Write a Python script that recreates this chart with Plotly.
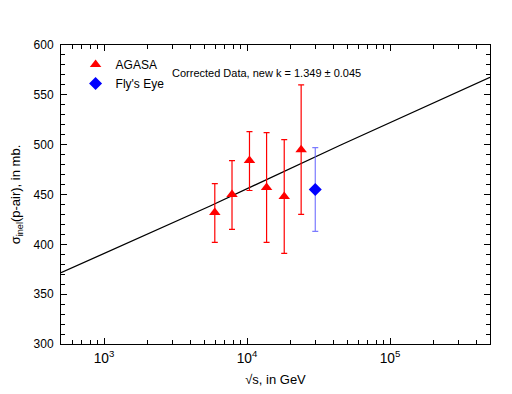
import plotly.graph_objects as go

# AGASA points (sqrt(s) in GeV, sigma in mb)
agasa_x = [5950, 7850, 10400, 13700, 18200, 23900]
agasa_y = [432, 450, 484, 457, 448, 495]
agasa_up = [29, 34, 29, 55, 57, 65]
agasa_dn = [30, 35, 30, 55, 57, 65]

# Fly's Eye point
fly_x = [30000]
fly_y = [455]
fly_up = [42]
fly_dn = [42]

# fitted curve
fit_x = [500, 5570, 45200, 147000, 500000]
fit_y = [371.5, 438.7, 499.7, 533, 567.6]

FONT = "Liberation Sans, Arial, sans-serif"

fig = go.Figure()

fig.add_trace(
    go.Scatter(
        x=fit_x,
        y=fit_y,
        mode="lines",
        line=dict(color="black", width=1.3),
        showlegend=False,
    )
)

fig.add_trace(
    go.Scatter(
        x=agasa_x,
        y=agasa_y,
        mode="markers",
        name="AGASA",
        marker=dict(symbol="triangle-up", color="red", size=10),
        error_y=dict(
            type="data",
            array=agasa_up,
            arrayminus=agasa_dn,
            color="red",
            thickness=1.2,
            width=3,
        ),
    )
)

fig.add_trace(
    go.Scatter(
        x=fly_x,
        y=fly_y,
        mode="markers",
        name="Fly's Eye",
        marker=dict(symbol="diamond", color="blue", size=10),
        error_y=dict(
            type="data",
            array=fly_up,
            arrayminus=fly_dn,
            color="rgba(90,90,255,0.8)",
            thickness=1.2,
            width=3,
        ),
    )
)

fig.add_annotation(
    x=0.255,
    y=0.905,
    xref="paper",
    yref="paper",
    xanchor="left",
    yanchor="middle",
    text="Corrected Data, new k = 1.349 ± 0.045",
    showarrow=False,
    font=dict(size=11, color="black", family=FONT),
)

# the page body adds ~8px offset, so the margins are shifted to compensate
fig.update_layout(
    width=512,
    height=394,
    margin=dict(l=53, r=30, t=37, b=58),
    plot_bgcolor="white",
    paper_bgcolor="white",
    font=dict(family=FONT, size=11, color="black"),
    legend=dict(
        x=0.034,
        y=0.983,
        xanchor="left",
        yanchor="top",
        bgcolor="rgba(0,0,0,0)",
        font=dict(size=12),
        tracegroupgap=0,
    ),
)

fig.update_xaxes(
    type="log",
    range=[2.699, 5.699],
    dtick=1,
    exponentformat="power",
    showgrid=False,
    zeroline=False,
    showline=True,
    linecolor="black",
    linewidth=1,
    mirror="ticks",
    ticks="inside",
    ticklen=6,
    tickcolor="black",
    minor=dict(ticks="inside", ticklen=4, tickcolor="black", dtick="D1", showgrid=False),
    title=dict(text="√s, in GeV", font=dict(size=13), standoff=9),
    tickfont=dict(size=11),
    ticklabelstandoff=2,
    automargin=False,
)

fig.update_yaxes(
    range=[300, 600],
    dtick=50,
    showgrid=False,
    zeroline=False,
    showline=True,
    linecolor="black",
    linewidth=1,
    mirror="ticks",
    ticks="inside",
    ticklen=6,
    tickcolor="black",
    minor=dict(ticks="inside", ticklen=4, tickcolor="black", dtick=10, showgrid=False),
    title=dict(text="σ<sub>inel</sub>(p-air), in mb.", font=dict(size=13), standoff=15),
    tickfont=dict(size=12),
    ticklabelstandoff=4,
    automargin=False,
)

fig.write_html("out.html")
